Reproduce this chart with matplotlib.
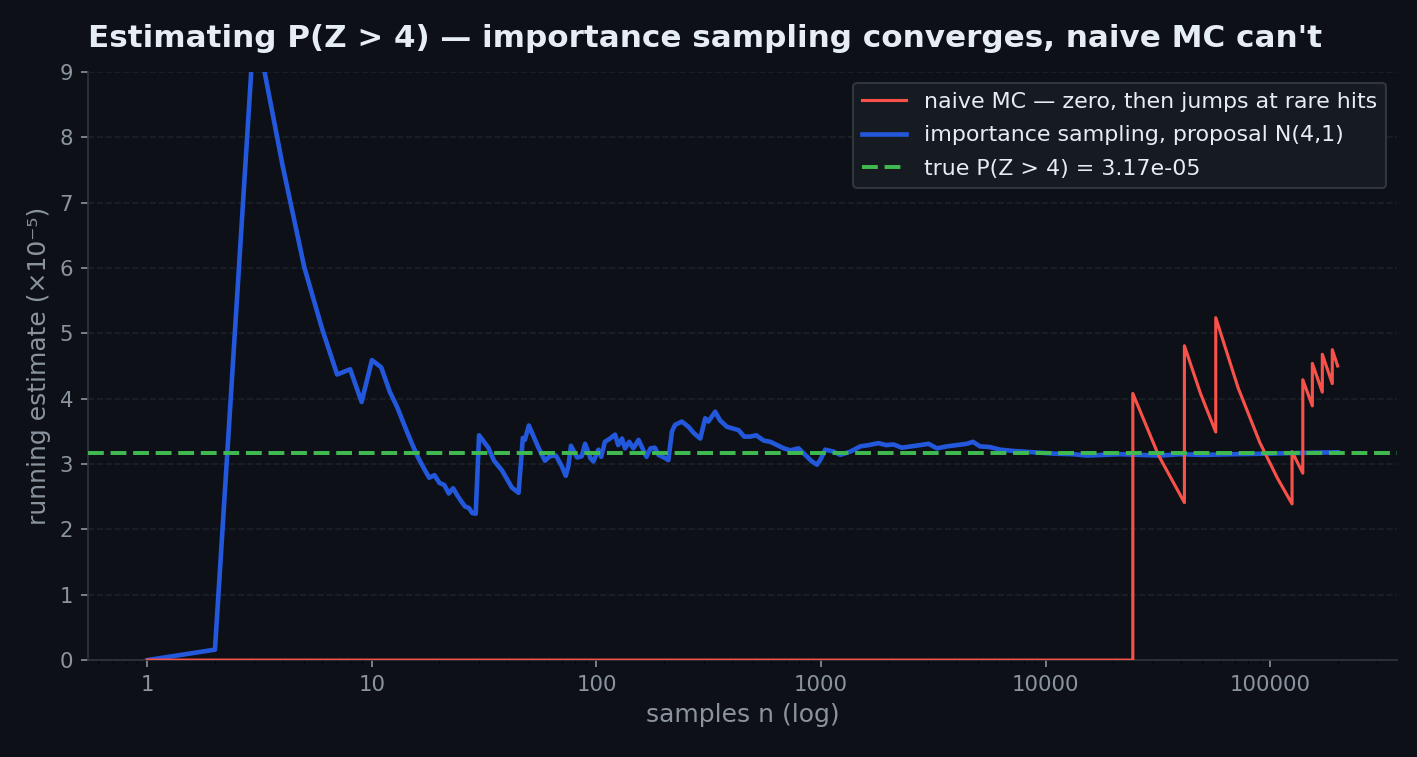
import matplotlib
matplotlib.use('Agg')
import matplotlib.pyplot as plt
import matplotlib.ticker as mticker

# running estimates, in units of 1e-5
naive_n = [1, 24480, 24480, 31900, 41550, 41550, 49000, 57300, 57300, 72000,
           90000, 108000, 125300, 125300, 139900, 139900, 154300, 154300,
           170900, 170900, 189300, 189300, 200000]
naive_est = [0, 0, 4.08, 3.13, 2.41, 4.81, 4.08, 3.49, 5.24, 4.17,
             3.33, 2.78, 2.39, 3.19, 2.86, 4.29, 3.89, 4.54,
             4.10, 4.68, 4.23, 4.75, 4.50]

is_n = [1, 2, 3, 4, 5, 6, 7, 8, 9, 10, 11, 12, 13, 14, 15, 16, 17, 18, 19, 20,
        21, 22, 23, 24, 25, 26, 27, 28, 29, 30, 33, 35, 38, 42, 45, 47, 48, 50,
        55, 59, 62, 66, 70, 73, 75, 77, 82, 86, 89, 94, 97, 102, 105, 109, 115,
        121, 125, 130, 134, 140, 146, 154, 162, 167, 174, 182, 189, 200, 209,
        217, 224, 240, 257, 272, 290, 305, 315, 338, 355, 381, 400, 429, 455,
        484, 515, 555, 595, 637, 683, 729, 794, 850, 911, 959, 992, 1045, 1138,
        1219, 1350, 1496, 1629, 1804, 1950, 2103, 2291, 2520, 2767, 3012, 3282,
        3636, 4030, 4463, 4746, 5113, 5650, 6279, 7196, 8835, 10840, 13300,
        15270, 18110, 21490, 26360, 32360, 39720, 50000, 68400, 100000, 136000,
        200000]
is_est = [0, 0.16, 9.8, 7.57, 6.01, 5.07, 4.37, 4.45, 3.95, 4.59, 4.48, 4.11,
          3.86, 3.58, 3.33, 3.11, 2.94, 2.79, 2.83, 2.71, 2.68, 2.55, 2.63, 2.52,
          2.43, 2.35, 2.33, 2.25, 2.24, 3.44, 3.25, 3.05, 2.90, 2.64, 2.56, 3.40,
          3.37, 3.59, 3.26, 3.05, 3.12, 3.13, 2.97, 2.82, 2.97, 3.28, 3.10, 3.12,
          3.31, 3.09, 3.04, 3.22, 3.11, 3.34, 3.39, 3.45, 3.29, 3.39, 3.24, 3.34,
          3.24, 3.37, 3.21, 3.11, 3.24, 3.25, 3.14, 3.10, 3.06, 3.50, 3.60, 3.65,
          3.57, 3.47, 3.39, 3.70, 3.65, 3.80, 3.67, 3.57, 3.55, 3.52, 3.42, 3.42,
          3.44, 3.36, 3.34, 3.29, 3.24, 3.21, 3.24, 3.14, 3.04, 2.99, 3.06, 3.22,
          3.19, 3.14, 3.19, 3.27, 3.29, 3.32, 3.29, 3.30, 3.25, 3.27, 3.29, 3.31,
          3.24, 3.27, 3.29, 3.31, 3.34, 3.27, 3.26, 3.22, 3.20, 3.18, 3.16, 3.15,
          3.13, 3.14, 3.15, 3.14, 3.13, 3.15, 3.14, 3.15, 3.16, 3.17, 3.18]

true_p = 3.17

bg = '#0d1117'
fg = '#e6edf3'
muted = '#8b949e'

fig, ax = plt.subplots(figsize=(1417/150, 757/150), dpi=150)
fig.patch.set_facecolor(bg)
ax.set_facecolor(bg)
fig.subplots_adjust(left=0.062, right=0.986, bottom=0.128, top=0.905)

ax.plot(naive_n, naive_est, c='#f85149', lw=1.5, zorder=3,
        label='naive MC — zero, then jumps at rare hits')
ax.plot(is_n, is_est, c='#2458dc', lw=2.2, zorder=2,
        label='importance sampling, proposal N(4,1)')
ax.axhline(true_p, c='#3fb950', lw=1.9, ls=(0, (4, 1.7)), zorder=4,
           label=f'true P(Z > 4) = {true_p:.2f}e-05')

ax.set_xscale('log')
ax.set_ylim(0, 9)
ax.xaxis.set_major_formatter(mticker.FuncFormatter(lambda v, _: f'{int(round(v))}'))
ax.yaxis.set_major_locator(mticker.MultipleLocator(1))

ax.grid(axis='y', ls='--', lw=0.8, color='#1c2129')
ax.set_axisbelow(True)
for s in ['top', 'right']:
    ax.spines[s].set_visible(False)
for s in ['left', 'bottom']:
    ax.spines[s].set_color('#30363d')
ax.tick_params(which='major', colors=muted, labelsize=10.2)
ax.tick_params(which='minor', colors='#010409')

ax.set_xlabel('samples n (log)', color=muted, fontsize=12)
ax.set_ylabel('running estimate (×10⁻⁵)', color=muted, fontsize=12)
ax.set_title("Estimating P(Z > 4) — importance sampling converges, naive MC can't",
             loc='left', color=fg, fontsize=14.9, fontweight='bold', pad=12)

leg = ax.legend(loc='upper right', fontsize=10.6, facecolor='#161b22',
                edgecolor='#30363d', framealpha=1.0, labelspacing=0.62)
for t in leg.get_texts():
    t.set_color(fg)

fig.savefig('out.png', facecolor=bg)
